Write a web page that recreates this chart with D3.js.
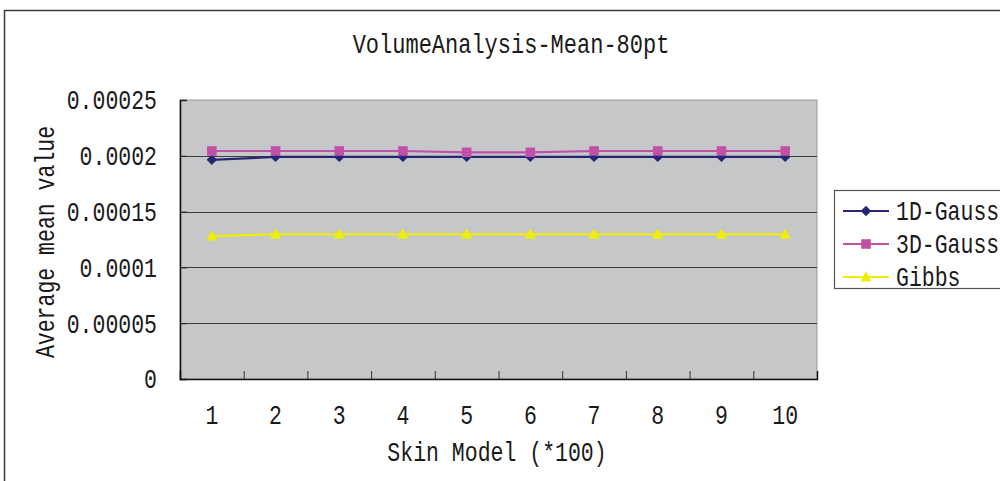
<!DOCTYPE html>
<html>
<head>
<meta charset="utf-8">
<script src="https://cdn.jsdelivr.net/npm/d3@7"></script>
<style>
  html, body { margin: 0; padding: 0; background: #fff; }
  svg { display: block; }
  text { font-family: "Liberation Mono", "DejaVu Sans Mono", monospace; fill: #1a1a1a; }
</style>
</head>
<body>
<svg id="chart" width="1000" height="481"></svg>
<script>
// Skin model sizes (hundreds) along the category axis
const categories = ["1", "2", "3", "4", "5", "6", "7", "8", "9", "10"];

// Average mean value for each method
const gauss1D = [0.0001964, 0.000199, 0.000199, 0.000199, 0.000199, 0.000199, 0.000199, 0.000199, 0.000199, 0.000199];
const gauss3D = [0.0002043, 0.0002043, 0.0002043, 0.0002043, 0.0002031, 0.0002031, 0.0002043, 0.0002043, 0.0002043, 0.0002043];
const gibbs   = [0.0001281, 0.0001297, 0.0001297, 0.0001297, 0.0001297, 0.0001297, 0.0001297, 0.0001297, 0.0001297, 0.0001297];

const yTicks = [0, 0.00005, 0.0001, 0.00015, 0.0002, 0.00025];
const yTickLabels = ["0", "0.00005", "0.0001", "0.00015", "0.0002", "0.00025"];

const seriesNames = ["1D-Gauss", "3D-Gauss", "Gibbs"];
const seriesColors = ["#262673", "#BF52A6", "#EFEF00"];
const seriesValues = [gauss1D, gauss3D, gibbs];
const seriesSymbols = ["diamond", "square", "triangle"];

const svg = d3.select("#chart");
const plot = { left: 180, right: 817, top: 100, bottom: 379 };
const stretch = 1.25; // tall, narrow lettering

// outer chart frame (right and bottom edges fall outside the page)
svg.append("path")
  .attr("d", "M4.5,481 L4.5,10.5 L1000,10.5")
  .attr("fill", "none").attr("stroke", "#3a3a3a").attr("stroke-width", 1.5);

const x = d3.scaleBand().domain(categories).range([plot.left, plot.right]).padding(0);
const y = d3.scaleLinear().domain([0, 0.00025]).range([plot.bottom, plot.top]);

// plot area background
svg.append("rect")
  .attr("x", plot.left).attr("y", plot.top)
  .attr("width", plot.right - plot.left).attr("height", plot.bottom - plot.top)
  .attr("fill", "#C6C7C9").attr("stroke", "#9a9a9a").attr("stroke-width", 1);

// horizontal gridlines
svg.append("g").selectAll("line")
  .data(yTicks.slice(1, -1))
  .join("line")
  .attr("x1", plot.left).attr("x2", plot.right)
  .attr("y1", d => Math.round(y(d)) + 0.5).attr("y2", d => Math.round(y(d)) + 0.5)
  .attr("stroke", "#404040").attr("stroke-width", 1);

// y axis with inward ticks
const yAxis = svg.append("g")
  .attr("transform", `translate(${plot.left},0)`)
  .call(d3.axisRight(y).tickValues(yTicks).tickSize(7).tickFormat(""));
yAxis.select(".domain").attr("stroke", "#111").attr("stroke-width", 1.5);
yAxis.selectAll(".tick line").attr("stroke", "#222");

// y tick labels
svg.append("g").selectAll("text")
  .data(yTicks)
  .join("text")
  .attr("transform", (d) => `translate(157,${y(d)}) scale(1,${stretch})`)
  .attr("text-anchor", "end")
  .attr("dy", "0.35em")
  .style("font-size", "21.5px")
  .text((d, i) => yTickLabels[i]);

// x axis with inward ticks at category boundaries
const bounds = categories.slice(1).map(c => x(c));
const xAxis = svg.append("g")
  .attr("transform", `translate(0,${plot.bottom})`)
  .call(d3.axisTop(d3.scaleLinear().domain([plot.left, plot.right]).range([plot.left, plot.right]))
    .tickValues(bounds).tickSize(8).tickFormat(""));
xAxis.select(".domain").attr("stroke", "#111").attr("stroke-width", 1.5);
xAxis.selectAll(".tick line").attr("stroke", "#333");

// x tick labels
svg.append("g").selectAll("text")
  .data(categories)
  .join("text")
  .attr("transform", d => `translate(${x(d) + x.bandwidth() / 2},415) scale(1,${stretch})`)
  .attr("text-anchor", "middle")
  .attr("dy", "0.35em")
  .style("font-size", "21.5px")
  .text(d => d);

// titles
svg.append("text")
  .attr("transform", `translate(511,43) scale(1,${stretch})`)
  .attr("text-anchor", "middle").attr("dy", "0.35em")
  .style("font-size", "22px")
  .text("VolumeAnalysis-Mean-80pt");

svg.append("text")
  .attr("transform", `translate(497,452) scale(1,${stretch})`)
  .attr("text-anchor", "middle").attr("dy", "0.35em")
  .style("font-size", "21.5px")
  .text("Skin Model (*100)");

svg.append("text")
  .attr("transform", `translate(45,242) rotate(-90) scale(1,${stretch})`)
  .attr("text-anchor", "middle").attr("dy", "0.35em")
  .style("font-size", "21.5px")
  .text("Average mean value");

// marker shapes: rhombus, square and triangle, each about 10px across
const markerPath = {
  diamond: "M0,-5.2L5.2,0L0,5.2L-5.2,0Z",
  square: "M-4.8,-4.8H4.8V4.8H-4.8Z",
  triangle: "M0,-6L5.5,4.5H-5.5Z"
};
const cx = c => x(c) + x.bandwidth() / 2;

seriesValues.forEach((vals, s) => {
  const g = svg.append("g");
  g.append("path")
    .datum(vals)
    .attr("fill", "none")
    .attr("stroke", seriesColors[s])
    .attr("stroke-width", 2.2)
    .attr("d", d3.line().x((d, i) => cx(categories[i])).y(d => y(d)));
  g.selectAll("path.m")
    .data(vals)
    .join("path")
    .attr("class", "m")
    .attr("transform", (d, i) => `translate(${cx(categories[i])},${y(d)})`)
    .attr("d", markerPath[seriesSymbols[s]])
    .attr("fill", seriesColors[s]);
});

// legend
const legend = svg.append("g");
legend.append("rect")
  .attr("x", 834.5).attr("y", 190.5).attr("width", 200).attr("height", 98)
  .attr("fill", "#fff").attr("stroke", "#555").attr("stroke-width", 1.2);
const legendY = [211, 244, 277];
seriesNames.forEach((name, s) => {
  const ly = legendY[s];
  legend.append("line")
    .attr("x1", 843).attr("x2", 889).attr("y1", ly).attr("y2", ly)
    .attr("stroke", seriesColors[s]).attr("stroke-width", 2.2);
  legend.append("path")
    .attr("transform", `translate(866,${ly})`)
    .attr("d", markerPath[seriesSymbols[s]])
    .attr("fill", seriesColors[s]);
  legend.append("text")
    .attr("transform", `translate(896,${ly}) scale(1,${stretch})`)
    .attr("dy", "0.35em")
    .style("font-size", "21.5px")
    .text(name);
});
</script>
</body>
</html>
